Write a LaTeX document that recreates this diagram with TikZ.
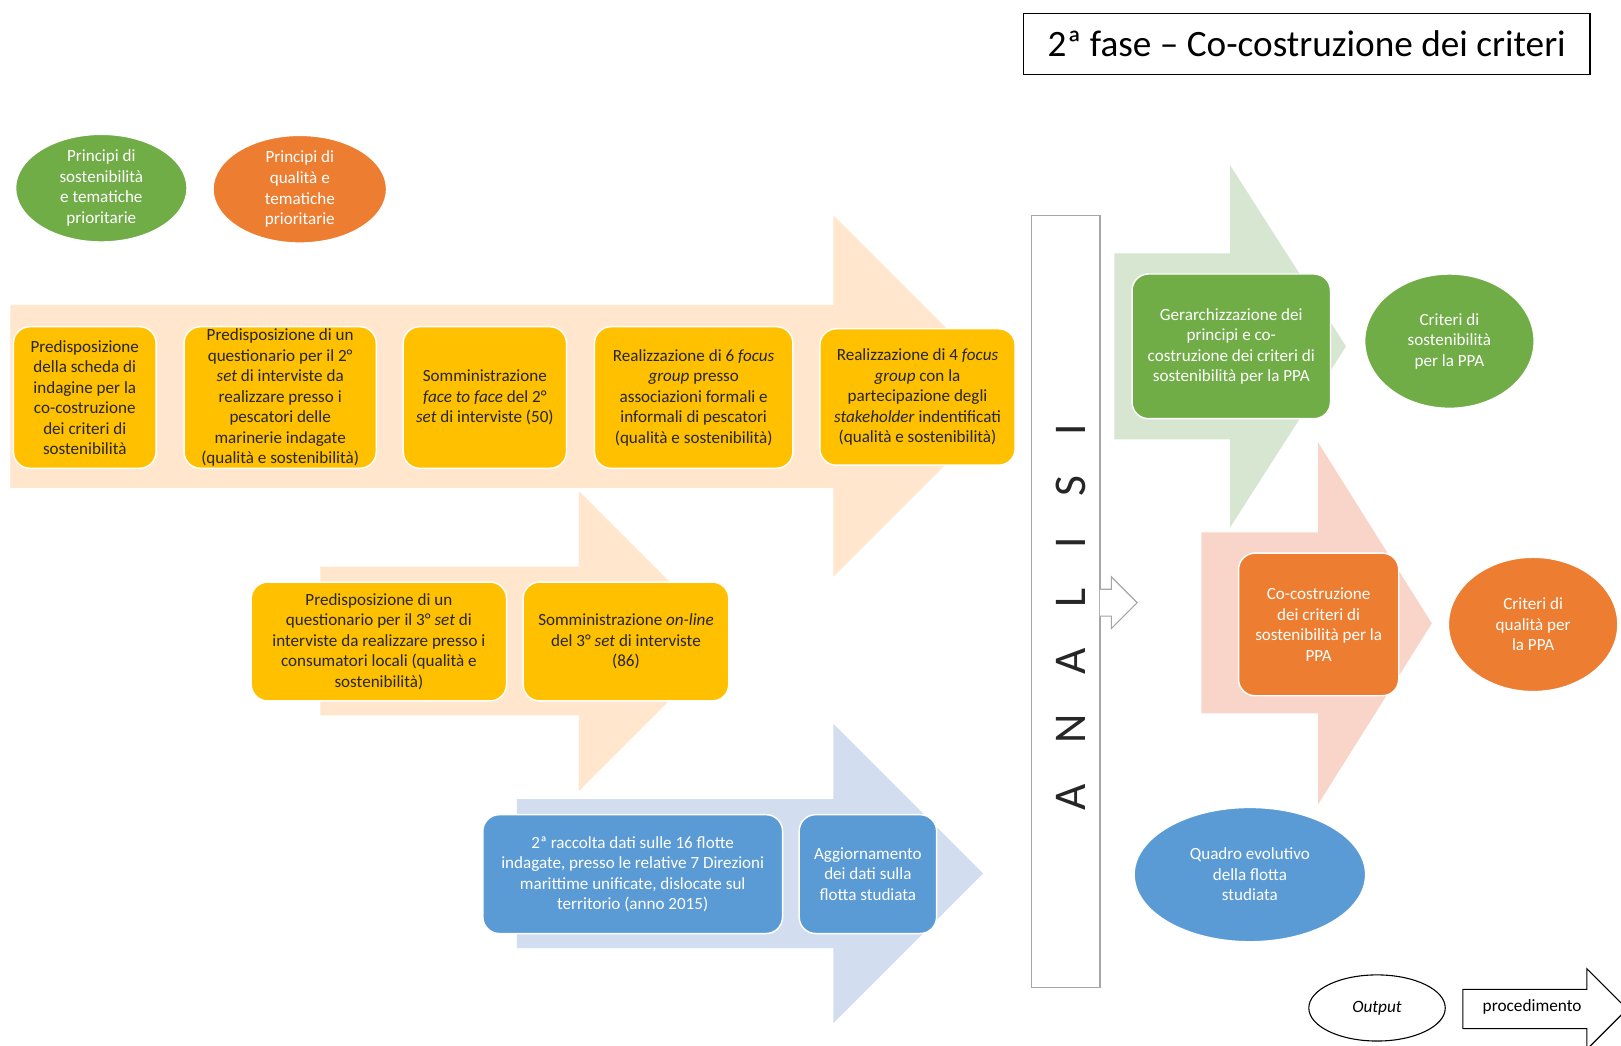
\documentclass[tikz,border=0pt]{standalone}
\usepackage{fontspec}
\setmainfont{Carlito}
\usetikzlibrary{shapes.geometric}
\definecolor{peach}{HTML}{FFE6CD}
\definecolor{pinkbg}{HTML}{F8D5C8}
\definecolor{greenbg}{HTML}{D7E6D0}
\definecolor{bluebg}{HTML}{D3DDF0}
\definecolor{myyellow}{HTML}{FFC000}
\definecolor{mygreen}{HTML}{70AD47}
\definecolor{myorange}{HTML}{ED7D31}
\definecolor{myblue}{HTML}{5B9BD5}
\definecolor{greyline}{HTML}{A6A6A6}
\tikzset{
  boxbase/.style={rectangle, rounded corners=0.32cm, draw=white, line width=0.8pt, align=center, inner sep=1pt, font=\fontsize{9.4}{11.3}\selectfont},
  ybox/.style={boxbase, fill=myyellow, text=black!85},
  gbox/.style={boxbase, fill=mygreen, text=white},
  obox/.style={boxbase, fill=myorange, text=white},
  bbox/.style={boxbase, fill=myblue, text=white},
  oval/.style={ellipse, draw=white, line width=0.8pt, align=center, inner sep=0pt, text=white, font=\fontsize{9.4}{11.3}\selectfont},
}
\begin{document}
\begin{tikzpicture}[x=0.02cm,y=-0.02cm]
\useasboundingbox (0,0) rectangle (1568,1011);
\clip (0,0) rectangle (1568,1011);
\fill[white] (0,0) rectangle (1568,1011);

% background process arrows
\fill[peach] (10,295) -- (806,295) -- (806,208) -- (981,383) -- (806,558) -- (806,472) -- (10,472) -- cycle;
\fill[peach] (310,548) -- (560,548) -- (560,475) -- (705,620) -- (560,765) -- (560,692) -- (310,692) -- cycle;
\fill[bluebg] (500,773) -- (806,773) -- (806,700) -- (951,845) -- (806,990) -- (806,917) -- (500,917) -- cycle;
\fill[greenbg] (1078,245) -- (1190,245) -- (1190,160) -- (1302,335) -- (1190,510) -- (1190,425) -- (1078,425) -- cycle;
\fill[pinkbg] (1162,515) -- (1275,515) -- (1275,428) -- (1385,603) -- (1275,778) -- (1275,690) -- (1162,690) -- cycle;

% title
\node[draw=black, line width=0.8pt, minimum width=10.96cm, minimum height=1.18cm, inner sep=0pt, font=\fontsize{20.5}{24}\selectfont] (title) at (1264,42.5) {2ª fase – Co-costruzione dei criteri};

% top ellipses
\node[oval, fill=mygreen, minimum width=3.32cm, minimum height=2.08cm] (e1) at (98,182) {Principi di\\sostenibilità\\e tematiche\\prioritarie};
\node[oval, fill=myorange, minimum width=3.36cm, minimum height=2.0cm] (e2) at (290,183) {Principi di\\qualità e\\tematiche\\prioritarie};

% yellow row 1
\node[ybox, minimum width=2.76cm, minimum height=2.74cm] (b1) at (82,384.5) {Predisposizione\\della scheda di\\indagine per la\\co-costruzione\\dei criteri di\\sostenibilità};
\node[ybox, minimum width=3.72cm, minimum height=2.74cm] (b2) at (271,384.5) {Predisposizione di un\\questionario per il 2°\\\textit{set} di interviste da\\realizzare presso i\\pescatori delle\\marinerie indagate\\(qualità e sostenibilità)};
\node[ybox, minimum width=3.16cm, minimum height=2.74cm] (b3) at (469,384.5) {Somministrazione\\\textit{face to face} del 2°\\\textit{set} di interviste (50)};
\node[ybox, minimum width=3.84cm, minimum height=2.74cm] (b4) at (671,384.5) {Realizzazione di 6 \textit{focus}\\\textit{group} presso\\associazioni formali e\\informali di pescatori\\(qualità e sostenibilità)};
\node[ybox, minimum width=3.78cm, minimum height=2.64cm] (b5) at (887.5,384) {Realizzazione di 4 \textit{focus}\\\textit{group} con la\\partecipazione degli\\\textit{stakeholder} indentificati\\(qualità e sostenibilità)};

% yellow row 2
\node[ybox, minimum width=4.94cm, minimum height=2.30cm] (y1) at (366.5,620.5) {Predisposizione di un\\questionario per il 3° \textit{set} di\\interviste da realizzare presso i\\consumatori locali (qualità e\\sostenibilità)};
\node[ybox, minimum width=3.98cm, minimum height=2.30cm] (y2) at (605.5,620.5) {Somministrazione \textit{on-line}\\del 3° \textit{set} di interviste\\(86)};

% blue row
\node[bbox, minimum width=5.8cm, minimum height=2.3cm] (bl1) at (612,845.5) {2ª raccolta dati sulle 16 flotte\\indagate, presso le relative 7 Direzioni\\marittime unificate, dislocate sul\\territorio (anno 2015)};
\node[bbox, minimum width=2.66cm, minimum height=2.3cm] (bl2) at (839.5,845.5) {Aggiornamento\\dei dati sulla\\flotta studiata};

% analysis column
\node[draw=greyline, fill=white, line width=0.6pt, minimum width=1.32cm, minimum height=14.94cm, inner sep=0pt] (an) at (1031,581.5) {};
\node[rotate=90, font=\fontsize{25}{28}\selectfont, text=black!85] (antext) at (1036,597) {A\hspace{0.78cm}N\hspace{0.78cm}A\hspace{0.78cm}L\hspace{0.78cm}I\hspace{0.78cm}S\hspace{0.78cm}I};
\filldraw[draw=greyline, fill=white, line width=0.6pt] (1064,570) -- (1075,570) -- (1075,558) -- (1100,583) -- (1075,608) -- (1075,596) -- (1064,596);

% right side outputs
\node[gbox, minimum width=3.84cm, minimum height=2.8cm] (g) at (1191,335) {Gerarchizzazione dei\\principi e co-\\costruzione dei criteri di\\sostenibilità per la PPA};
\node[oval, fill=mygreen, minimum width=3.28cm, minimum height=2.6cm] (ge) at (1402,330) {Criteri di\\sostenibilità\\per la PPA};
\node[obox, minimum width=3.1cm, minimum height=2.76cm] (o) at (1275.5,604) {Co-costruzione\\dei criteri di\\sostenibilità per la\\PPA};
\node[oval, fill=myorange, minimum width=3.28cm, minimum height=2.6cm] (oe) at (1483,604) {Criteri di\\qualità per\\la PPA};
\node[oval, fill=myblue, minimum width=4.48cm, minimum height=2.6cm] (be) at (1209,846) {Quadro evolutivo\\della flotta\\studiata};

% legend
\node[ellipse, draw=black, line width=0.6pt, fill=white, minimum width=2.64cm, minimum height=1.28cm, inner sep=0pt, font=\fontsize{9.5}{11}\selectfont] (lo) at (1332,975) {\textit{Output}};
\filldraw[draw=black, fill=white, line width=0.6pt] (1415,957) -- (1535,957) -- (1535,937) -- (1574,976) -- (1535,1015) -- (1535,995) -- (1415,995) -- cycle;
\node[font=\fontsize{9.5}{11}\selectfont] (lp) at (1482,974) {procedimento};
\end{tikzpicture}
\end{document}
